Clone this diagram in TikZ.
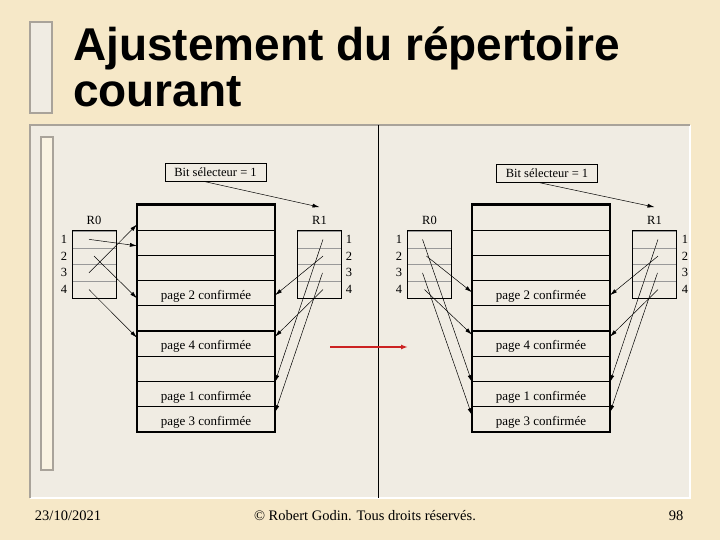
\documentclass[tikz,border=0pt]{standalone}
\usepackage{fontspec}
\setmainfont{Liberation Serif}
\setsansfont{Liberation Sans}
\usetikzlibrary{arrows.meta,positioning}
\definecolor{GodinParchment}{HTML}{F6E8C8}
\definecolor{GodinPanel}{HTML}{F0ECE3}
\definecolor{GodinFrame}{HTML}{A9A39A}
\definecolor{GodinCream}{HTML}{FAF3E2}
\definecolor{GodinRed}{HTML}{CC2222}

\begin{document}
\begin{tikzpicture}[x=1pt, y=-1pt,
  slot/.style={draw=black, line width=1.2pt, minimum width=137pt, minimum height=25.2pt, inner sep=0pt, text height=12pt, text depth=0pt, font=\fontsize{13}{13}\selectfont},
  cell/.style={draw=black!40, line width=.4pt, minimum width=44pt, minimum height=16.75pt, inner sep=0pt},
  idx/.style={inner sep=0pt, font=\fontsize{12.5}{12.5}\selectfont},
  bitbox/.style={draw=black, line width=.6pt, minimum width=101pt, minimum height=18pt, inner sep=0pt, font=\fontsize{12.5}{12.5}\selectfont},
  ptr/.style={-{Latex[length=7pt,width=4pt]}, line width=.5pt},
  foot/.style={inner sep=0pt, font=\fontsize{14.5}{14.5}\selectfont}
]
  % slide background
  \fill[GodinParchment] (0,0) rectangle (720,540);
  \filldraw[fill=GodinPanel, draw=GodinFrame, line width=1.5pt] (30,22) rectangle (52,113);
  \fill[GodinPanel] (30,125) rectangle (690,498);
  \draw[white, line width=1.5pt] (30,498) -- (690,498) -- (690,125);
  \draw[GodinFrame, line width=1.5pt] (30,498) -- (30,125) -- (690,125);
  \filldraw[fill=GodinCream, draw=GodinFrame, line width=1.2pt] (41,137) rectangle (53,470);
  \draw[line width=.5pt] (378,125) -- (378,498);

  \node[anchor=base west, inner sep=0pt, font=\fontsize{46}{46}\sffamily\bfseries] (title) at (73,61) {Ajustement du répertoire};
  \node[anchor=base west, inner sep=0pt, font=\fontsize{46}{46}\sffamily\bfseries] (title2) at (73,107) {courant};

  % before: memory and tables
  \foreach \t [count=\i] in {{},{},{},{page 2 confirmée},{},{page 4 confirmée},{},{page 1 confirmée},{page 3 confirmée}}
    \node[slot] (m\i) at (206,{192.4+25.2*\i}) {\t};
  \draw[line width=2pt] (m1.north west) rectangle (m9.south east);

  \foreach \i in {1,...,4} {
    \node[cell] (a\i) at (94,{222.6+16.75*\i}) {};
    \node[idx] at (64,{222.6+16.75*\i}) {\i};
    \node[cell] (b\i) at (319.5,{222.6+16.75*\i}) {};
    \node[idx] at (349,{222.6+16.75*\i}) {\i};
  }
  \draw[line width=.6pt] (a1.north west) rectangle (a4.south east);
  \draw[line width=.6pt] (b1.north west) rectangle (b4.south east);
  \node[idx, above=6pt of a1] (ra) {R0};
  \node[idx, above=6pt of b1] (rb) {R1};
  \node[bitbox] (bitl) at (215.5,172.5) {Bit sélecteur = 1};

  \draw[ptr] ([xshift=-10pt]bitl.south) -- ([yshift=9pt]rb.north);
  \draw[ptr] ([xshift=-5pt]a1.center) -- ([yshift=-3pt]m2.west);
  \draw[ptr] (a2.center) -- ([yshift=-5pt]m4.west);
  \draw[ptr] ([xshift=-5pt]a3.center) -- ([yshift=-7pt]m1.west);
  \draw[ptr] ([xshift=-5pt]a4.center) -- ([yshift=6pt]m6.west);
  \draw[ptr] ([xshift=3.5pt]b1.center) -- ([yshift=12pt]m8.east);
  \draw[ptr] ([xshift=3.5pt]b2.center) -- ([yshift=-2pt]m4.east);
  \draw[ptr] ([xshift=3pt]b3.center) -- ([yshift=7pt]m9.east);
  \draw[ptr] ([xshift=3.5pt]b4.center) -- ([yshift=7pt]m6.east);

  % after: memory and tables
  \foreach \t [count=\i] in {{},{},{},{page 2 confirmée},{},{page 4 confirmée},{},{page 1 confirmée},{page 3 confirmée}}
    \node[slot] (n\i) at (541,{192.4+25.2*\i}) {\t};
  \draw[line width=2pt] (n1.north west) rectangle (n9.south east);

  \foreach \i in {1,...,4} {
    \node[cell] (c\i) at (429.5,{222.6+16.75*\i}) {};
    \node[idx] at (399,{222.6+16.75*\i}) {\i};
    \node[cell] (d\i) at (654.5,{222.6+16.75*\i}) {};
    \node[idx] at (685,{222.6+16.75*\i}) {\i};
  }
  \draw[line width=.6pt] (c1.north west) rectangle (c4.south east);
  \draw[line width=.6pt] (d1.north west) rectangle (d4.south east);
  \node[idx, above=6pt of c1] (rc) {R0};
  \node[idx, above=6pt of d1] (rd) {R1};
  \node[bitbox] (bitr) at (547,173.5) {Bit sélecteur = 1};

  \draw[ptr] ([xshift=-7pt]bitr.south) -- ([yshift=9pt]rd.north);
  \draw[ptr] ([xshift=-7pt]c1.center) -- ([yshift=12pt]n8.west);
  \draw[ptr] ([xshift=-3pt]c2.center) -- ([yshift=1pt]n4.west);
  \draw[ptr] ([xshift=-7pt]c3.center) -- ([yshift=4pt]n9.west);
  \draw[ptr] ([xshift=-5pt]c4.center) -- ([yshift=9pt]n6.west);
  \draw[ptr] ([xshift=3.5pt]d1.center) -- ([yshift=12pt]n8.east);
  \draw[ptr] ([xshift=3.5pt]d2.center) -- ([yshift=-2pt]n4.east);
  \draw[ptr] ([xshift=3pt]d3.center) -- ([yshift=7pt]n9.east);
  \draw[ptr] ([xshift=3.5pt]d4.center) -- ([yshift=7pt]n6.east);

  \coordinate (redfrom) at (330,347);
  \coordinate (redto) at (408,347);
  \draw[GodinRed, line width=1.6pt, -{Latex[length=7pt,width=5pt]}] (redfrom) -- (redto);

  % footer
  \node[foot] (date) at (68,516) {23/10/2021};
  \node[foot] (copy) at (365,516) {© Robert Godin. Tous droits réservés.};
  \node[foot] (page) at (676,516) {98};
\end{tikzpicture}
\end{document}
